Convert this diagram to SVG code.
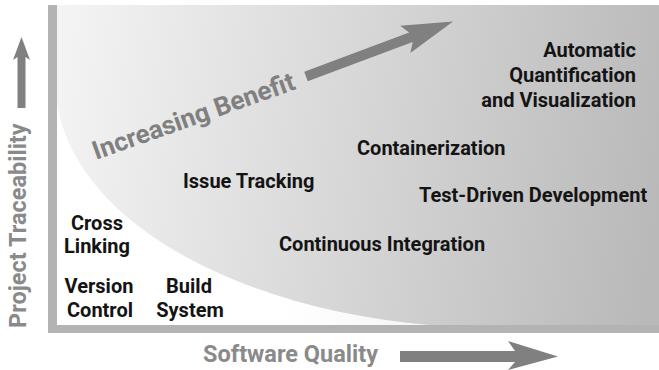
<svg xmlns="http://www.w3.org/2000/svg" width="659" height="370" viewBox="0 0 659 370">
<defs>
<linearGradient id="bg" gradientUnits="userSpaceOnUse" x1="57" y1="120" x2="659" y2="210">
<stop offset="0" stop-color="#f3f3f3"/>
<stop offset="1" stop-color="#b9b9b9"/>
</linearGradient>
<radialGradient id="wg" gradientUnits="userSpaceOnUse" cx="57" cy="325" r="380">
<stop offset="0" stop-color="#ffffff"/>
<stop offset="0.6" stop-color="#ffffff"/>
<stop offset="1" stop-color="#f4f4f4"/>
</radialGradient>
<style>
.lbl{font-family:Roboto,"Liberation Sans",sans-serif;font-weight:700;font-size:20px;fill:#141414}
.ax{font-family:Roboto,"Liberation Sans",sans-serif;font-weight:700;font-size:23.5px;fill:#8a8a8a}
.ben{font-family:Roboto,"Liberation Sans",sans-serif;font-weight:700;font-size:26px;fill:#808080}
.arr{fill:#808080}
.bar{fill:#b3b3b3}
</style>
</defs>
<rect width="659" height="370" fill="#ffffff"/>
<g id="plot">
<rect x="57" y="5" width="602" height="320" fill="url(#bg)"/>
<path d="M57,105 C80,230 250,310 430,325 L57,325 Z" fill="url(#wg)"/>
<rect class="bar" x="48" y="5" width="9" height="328"/>
<rect class="bar" x="48" y="325" width="611" height="8"/>
</g>
<g id="connectors">
<polygon class="arr" points="400,351 515,351 508,341 558,356.5 508,370 515,362 400,362"/>
<polygon class="arr" points="21.5,37 30,60 25.5,57 25.5,108 17.5,108 17.5,57 13,60"/>
<polygon class="arr" transform="translate(306,76.5) rotate(-20.5)" points="0,-5 112,-5 106,-14.5 157,0 106,14.5 112,5 0,5"/>
</g>
<g id="axis-x"><text class="ax" x="203" y="362">Software Quality</text></g>
<g id="axis-y"><text class="ax" transform="translate(26,328) rotate(-90)">Project Traceability</text></g>
<g id="benefit"><text class="ben" transform="translate(96,160) rotate(-19.5)">Increasing Benefit</text></g>
<g id="n-auto"><text class="lbl" text-anchor="end"><tspan x="636" y="57">Automatic</tspan><tspan x="636" y="82">Quantification</tspan><tspan x="636" y="107">and Visualization</tspan></text></g>
<g id="n-cont"><text class="lbl" x="357" y="155">Containerization</text></g>
<g id="n-tdd"><text class="lbl" x="419" y="202">Test-Driven Development</text></g>
<g id="n-ci"><text class="lbl" x="279" y="251">Continuous Integration</text></g>
<g id="n-issue"><text class="lbl" x="183" y="188">Issue Tracking</text></g>
<g id="n-cross"><text class="lbl" text-anchor="middle"><tspan x="97" y="230">Cross</tspan><tspan x="97" y="253">Linking</tspan></text></g>
<g id="n-vc"><text class="lbl" text-anchor="middle"><tspan x="99" y="293">Version</tspan><tspan x="100" y="317">Control</tspan></text></g>
<g id="n-build"><text class="lbl" text-anchor="middle"><tspan x="189" y="293">Build</tspan><tspan x="190" y="317">System</tspan></text></g>
</svg>
